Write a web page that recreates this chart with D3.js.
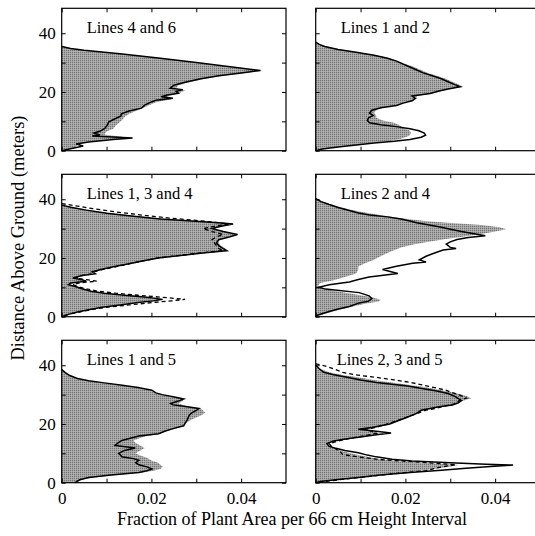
<!DOCTYPE html>
<html>
<head>
<meta charset="utf-8">
<script src="https://cdn.jsdelivr.net/npm/d3@7"></script>
<style>
  body { margin: 0; background: #fff; }
  svg { display: block; }
  text { font-family: "Liberation Serif", "Times New Roman", serif; fill: #000; }
</style>
</head>
<body>
<script>
// each profile is a list of [height (m), fraction of plant area]
const titles = ['Lines 4 and 6', 'Lines 1 and 2', 'Lines 1, 3 and 4',
                'Lines 2 and 4', 'Lines 1 and 5', 'Lines 2, 3 and 5'];

const xTicks = [0, 0.01, 0.02, 0.03, 0.04];
const xTickLabels = ['0', '', '0.02', '', '0.04'];
const yTicks = [0, 10, 20, 30, 40];
const yTickLabels = ['0', '', '20', '', '40'];

const p1Fill = [[35.5,0],[34.8,0.002],[34.2,0.005],[33,0.013],[31.5,0.022],[30,0.030],[28.5,0.038],[27.3,0.0448],[26.5,0.041],[25.5,0.036],[24.5,0.032],[23.3,0.0285],[22.3,0.026],[21.3,0.0255],[20.5,0.0275],[19.5,0.026],[18.5,0.0235],[17.5,0.0245],[16.5,0.021],[15.5,0.0195],[14.5,0.018],[13.5,0.0165],[12.5,0.015],[11.5,0.014],[10.5,0.0135],[9.5,0.0128],[8.5,0.012],[7.5,0.0115],[6.5,0.010],[5.5,0.0095],[4.3,0.0155],[3.7,0.0105],[3,0.006],[2,0.0035],[1,0.003],[0,0]];
const p1Solid = [[35.5,0],[34.8,0.002],[34.2,0.005],[33.0,0.013],[31.5,0.022],[30,0.030],[28.5,0.038],[27.3,0.0443],[26.5,0.040],[25.5,0.035],[24.5,0.031],[23.3,0.0275],[22.3,0.025],[21.3,0.0242],[20.8,0.027],[20.2,0.0255],[19.6,0.026],[19.0,0.0235],[18.4,0.0222],[17.9,0.0248],[17.2,0.021],[16.3,0.0195],[15.5,0.0185],[14.5,0.0178],[13.5,0.015],[12.6,0.0133],[11.8,0.0132],[10.8,0.0118],[9.8,0.0105],[8.8,0.0102],[7.6,0.0096],[6.6,0.0085],[6.0,0.0072],[5.4,0.0085],[5.0,0.0068],[4.3,0.0158],[3.8,0.0115],[3.0,0.006],[2.3,0.0032],[1.6,0.0048],[1.0,0.003],[0.4,0.0012],[0,0]];

const p2Fill = [[37,0],[36.2,0.001],[35.5,0.0025],[34.5,0.0055],[33.5,0.0095],[32.5,0.0135],[31.5,0.0165],[30.5,0.0185],[29.5,0.020],[28.5,0.022],[27.5,0.0235],[26.5,0.025],[25.5,0.027],[24.5,0.029],[23.5,0.0305],[22.5,0.032],[21.8,0.0328],[21.0,0.030],[20.3,0.028],[19.5,0.026],[18.6,0.0225],[17.8,0.0225],[17.0,0.0215],[16.2,0.0195],[15.4,0.0175],[14.6,0.015],[13.8,0.0135],[12.8,0.013],[12.0,0.0135],[11.2,0.0135],[10.3,0.015],[9.5,0.0175],[8.8,0.0185],[8.2,0.019],[7.5,0.020],[6.8,0.021],[6.0,0.0212],[5.3,0.021],[4.6,0.020],[3.8,0.0185],[3.2,0.016],[2.6,0.012],[2.0,0.009],[1.3,0.005],[0.6,0.0015],[0,0]];
const p2Solid = [[37,0],[36.2,0.0008],[35.5,0.002],[34.5,0.005],[33.5,0.009],[32.5,0.013],[31.5,0.016],[30.5,0.018],[29.5,0.0195],[28.5,0.021],[27.5,0.0225],[26.5,0.024],[25.5,0.026],[24.5,0.028],[23.5,0.0295],[22.5,0.031],[21.8,0.0322],[21.0,0.0295],[20.3,0.0275],[19.5,0.0255],[18.6,0.0215],[17.8,0.0222],[17.0,0.0215],[16.2,0.0195],[15.4,0.018],[14.6,0.0145],[13.8,0.0125],[12.8,0.012],[12.0,0.0128],[11.2,0.0118],[10.3,0.0115],[9.5,0.012],[8.8,0.0145],[8.2,0.018],[7.5,0.021],[6.8,0.023],[6.0,0.0242],[5.3,0.0245],[4.6,0.0235],[3.8,0.021],[3.2,0.0175],[2.6,0.013],[2.0,0.0095],[1.3,0.005],[0.6,0.0015],[0,0]];

const p3Fill = [[38,0],[37.3,0.0025],[36.3,0.006],[35.2,0.011],[34.2,0.017],[33.3,0.023],[32.6,0.030],[32.0,0.036],[31.6,0.0385],[30.8,0.036],[30.0,0.034],[29.0,0.0365],[28.0,0.039],[27.2,0.037],[26.2,0.035],[25.2,0.035],[24.2,0.0355],[23.2,0.0365],[22.5,0.037],[21.8,0.032],[21.0,0.028],[20.0,0.022],[19.0,0.0185],[18.0,0.0155],[17.0,0.012],[16.0,0.009],[15.3,0.0075],[14.6,0.007],[14.0,0.005],[13.2,0.003],[12.6,0.004],[12.1,0.005],[11.5,0.0025],[10.9,0.002],[10.3,0.0035],[9.5,0.005],[8.7,0.007],[8.0,0.010],[7.3,0.0145],[6.6,0.019],[5.9,0.021],[5.4,0.019],[4.8,0.016],[4.0,0.0125],[3.2,0.009],[2.4,0.006],[1.6,0.0035],[0.8,0.0015],[0,0]];
const p3Solid = [[38,0],[37.3,0.002],[36.3,0.0055],[35.2,0.010],[34.2,0.016],[33.3,0.022],[32.6,0.029],[32.0,0.035],[31.6,0.0382],[30.8,0.0355],[30.0,0.0335],[29.0,0.036],[28.0,0.0392],[27.2,0.0375],[26.2,0.035],[25.2,0.0345],[24.2,0.035],[23.2,0.036],[22.5,0.0368],[21.8,0.032],[21.0,0.0275],[20.0,0.0215],[19.0,0.018],[18.0,0.015],[17.0,0.0115],[16.0,0.0085],[15.3,0.0068],[14.6,0.0075],[14.0,0.0045],[13.2,0.0025],[12.6,0.0045],[12.1,0.0055],[11.5,0.002],[10.9,0.0015],[10.3,0.003],[9.5,0.0045],[8.7,0.0065],[8.0,0.0095],[7.3,0.014],[6.6,0.019],[5.9,0.0225],[5.4,0.0205],[4.8,0.017],[4.0,0.013],[3.2,0.009],[2.4,0.006],[1.6,0.0035],[0.8,0.0015],[0,0]];
const p3Dashed = [[38.5,0],[37.8,0.003],[36.8,0.007],[35.7,0.012],[34.6,0.018],[33.6,0.024],[32.8,0.030],[32.0,0.035],[31.5,0.0372],[30.8,0.034],[30.0,0.0315],[29.0,0.0335],[28.0,0.036],[27.2,0.0345],[26.2,0.0335],[25.2,0.034],[24.2,0.0345],[23.2,0.035],[22.5,0.036],[21.8,0.0315],[21.0,0.027],[20.0,0.0215],[19.0,0.018],[18.0,0.015],[17.0,0.012],[16.0,0.009],[15.3,0.0072],[14.6,0.0068],[14.0,0.0045],[13.2,0.003],[12.6,0.0055],[12.1,0.0078],[11.5,0.004],[10.9,0.0025],[10.3,0.0035],[9.5,0.0055],[8.7,0.008],[8.0,0.012],[7.3,0.017],[6.6,0.0225],[5.9,0.0275],[5.4,0.0245],[4.8,0.020],[4.0,0.015],[3.2,0.010],[2.4,0.0065],[1.6,0.004],[0.8,0.0015],[0,0]];

const p4Fill = [[40.2,0],[39.5,0.001],[38.5,0.003],[37.5,0.005],[36.5,0.0075],[35.5,0.011],[34.5,0.015],[33.5,0.019],[32.5,0.025],[31.8,0.031],[31.2,0.037],[30.5,0.041],[29.8,0.0425],[29.0,0.040],[28.2,0.037],[27.4,0.0335],[26.5,0.029],[25.6,0.0255],[24.7,0.022],[23.6,0.019],[22.4,0.017],[21.0,0.015],[19.4,0.013],[18.2,0.011],[17.1,0.0095],[16.0,0.0095],[14.7,0.009],[13.5,0.0065],[12.4,0.004],[11.5,0.001],[10.6,0.0005],[9.6,0.0015],[8.6,0.005],[7.6,0.009],[6.6,0.0125],[5.8,0.0145],[5.2,0.014],[4.4,0.011],[3.6,0.0085],[2.8,0.0065],[2.0,0.0045],[1.2,0.0025],[0.5,0.001],[0,0]];
const p4Solid = [[40.2,0],[39.2,0.0012],[38.2,0.003],[37.2,0.005],[36.2,0.0075],[35.3,0.0095],[34.6,0.012],[34.0,0.016],[33.3,0.019],[32.6,0.021],[32.0,0.0225],[31.3,0.025],[30.5,0.028],[29.8,0.030],[29.0,0.0325],[28.3,0.035],[27.6,0.0378],[27.0,0.034],[26.3,0.0315],[25.5,0.030],[24.7,0.0291],[23.6,0.030],[23.2,0.0313],[22.7,0.0284],[21.7,0.0265],[20.6,0.0246],[19.4,0.0231],[18.6,0.0246],[18.2,0.0216],[17.2,0.018],[16.1,0.0149],[14.7,0.0183],[13.5,0.0119],[12.7,0.0095],[11.8,0.0075],[10.9,0.003],[10.0,0.0007],[9.4,0.0022],[8.2,0.0097],[7.1,0.0119],[6.2,0.0125],[5.3,0.0118],[4.7,0.0097],[3.5,0.0075],[2.6,0.005],[1.8,0.003],[0.6,0.0005],[0,0]];

const p5Fill = [[38.5,0],[37.5,0.0008],[36.5,0.0018],[35.5,0.0032],[34.7,0.0055],[34.0,0.009],[33.2,0.013],[32.4,0.0165],[31.5,0.0195],[30.6,0.021],[30.0,0.0225],[29.1,0.025],[28.5,0.027],[27.8,0.027],[27.0,0.026],[26.0,0.028],[25.3,0.031],[24.6,0.0315],[23.8,0.032],[22.9,0.031],[21.5,0.029],[20.2,0.0275],[19.4,0.027],[18.5,0.0255],[17.6,0.0235],[16.7,0.022],[15.9,0.019],[15.2,0.0175],[14.4,0.016],[13.5,0.0165],[12.7,0.0175],[11.8,0.0185],[11.0,0.0175],[10.0,0.0165],[9.3,0.0175],[8.5,0.019],[7.6,0.020],[6.8,0.0215],[6.1,0.022],[5.4,0.0225],[4.7,0.022],[4.1,0.0205],[3.5,0.018],[2.6,0.012],[1.8,0.007],[1.0,0.0045],[0,0.003]];
const p5Solid = [[38.5,0],[37.5,0.0008],[36.5,0.0018],[35.5,0.0035],[34.7,0.006],[34.0,0.0095],[33.2,0.0135],[32.4,0.017],[31.5,0.0201],[30.6,0.021],[30.0,0.0224],[29.1,0.0254],[28.5,0.0272],[27.8,0.026],[27.0,0.0243],[26.5,0.0248],[26.0,0.0272],[25.3,0.0306],[24.6,0.030],[23.8,0.029],[22.9,0.0284],[21.5,0.028],[20.2,0.0275],[19.4,0.0272],[18.5,0.025],[17.6,0.0231],[16.7,0.0216],[15.9,0.0172],[15.2,0.0155],[14.4,0.0134],[13.5,0.0125],[12.7,0.0119],[11.8,0.0164],[11.0,0.014],[10.0,0.0127],[9.3,0.0132],[8.8,0.0134],[8.2,0.016],[7.6,0.0172],[6.8,0.0165],[6.1,0.0172],[5.4,0.019],[4.7,0.0201],[4.1,0.019],[3.5,0.0172],[2.6,0.011],[1.8,0.006],[1.0,0.004],[0,0.003]];

const p6Fill = [[39.5,0],[38.8,0.001],[37.6,0.003],[36.7,0.006],[35.9,0.0095],[35.0,0.013],[34.1,0.017],[33.3,0.021],[32.4,0.025],[31.5,0.028],[30.6,0.031],[29.6,0.0335],[28.8,0.0347],[28.0,0.033],[27.0,0.0315],[26.2,0.029],[25.4,0.0265],[24.7,0.024],[23.5,0.0225],[21.8,0.020],[20.3,0.017],[18.8,0.0135],[18.2,0.0115],[17.5,0.013],[16.8,0.014],[16.0,0.0115],[15.2,0.008],[14.2,0.0045],[13.3,0.0025],[12.4,0.003],[11.5,0.0045],[10.5,0.0065],[9.6,0.009],[8.8,0.0115],[8.0,0.0145],[7.4,0.018],[6.8,0.024],[6.3,0.029],[6.0,0.032],[5.5,0.030],[4.9,0.0275],[4.1,0.0235],[3.3,0.0185],[2.4,0.013],[1.5,0.008],[0.6,0.003],[0,0]];
const p6Solid = [[40,0],[38.8,0.0008],[37.6,0.0018],[36.8,0.004],[35.9,0.007],[35.0,0.010],[34.1,0.0135],[33.5,0.017],[32.9,0.0205],[32.0,0.024],[31.2,0.027],[30.4,0.0295],[29.4,0.031],[28.5,0.032],[28.0,0.0325],[27.2,0.0318],[26.5,0.0305],[25.9,0.0275],[25.3,0.0255],[24.7,0.0235],[23.6,0.0225],[22.4,0.0205],[21.2,0.0185],[20.0,0.0165],[19.4,0.0145],[18.8,0.0125],[18.2,0.0095],[17.6,0.013],[16.9,0.0168],[16.3,0.0135],[15.6,0.010],[15.0,0.007],[14.2,0.004],[13.3,0.0025],[12.4,0.003],[11.7,0.0045],[11.0,0.0065],[10.2,0.0095],[9.4,0.0115],[8.8,0.0135],[8.0,0.017],[7.4,0.0215],[6.8,0.030],[6.3,0.038],[6.0,0.044],[5.5,0.039],[4.9,0.0335],[4.2,0.028],[3.5,0.021],[2.7,0.015],[1.8,0.0095],[1.0,0.0045],[0.4,0.001],[0,0]];
const p6Dashed = [[40.5,0],[39.8,0.002],[38.8,0.004],[37.6,0.006],[36.7,0.009],[35.9,0.0134],[35.0,0.0175],[34.2,0.021],[33.5,0.0231],[32.4,0.0265],[31.5,0.029],[30.6,0.0306],[29.6,0.0325],[28.8,0.0336],[28.0,0.032],[27.0,0.0313],[26.2,0.029],[25.4,0.027],[24.7,0.0246],[23.5,0.0225],[21.8,0.0194],[20.3,0.0165],[18.8,0.0134],[18.2,0.011],[17.5,0.0125],[16.8,0.0135],[16.0,0.011],[15.2,0.008],[14.2,0.005],[13.3,0.003],[12.4,0.0035],[11.5,0.0045],[10.5,0.0055],[9.6,0.006],[8.8,0.0095],[8.0,0.0135],[7.6,0.0172],[7.0,0.023],[6.4,0.0285],[6.1,0.0313],[5.6,0.029],[5.0,0.027],[4.1,0.0246],[3.3,0.019],[2.4,0.0134],[1.5,0.008],[0.6,0.003],[0,0]];

const panels = [
  { title: titles[0], fill: p1Fill, solid: p1Solid, dashed: null },
  { title: titles[1], fill: p2Fill, solid: p2Solid, dashed: null },
  { title: titles[2], fill: p3Fill, solid: p3Solid, dashed: p3Dashed },
  { title: titles[3], fill: p4Fill, solid: p4Solid, dashed: null },
  { title: titles[4], fill: p5Fill, solid: p5Solid, dashed: null },
  { title: titles[5], fill: p6Fill, solid: p6Solid, dashed: p6Dashed },
];

const svgWidth = 535;
const svgHeight = 536;
const panelW = 224.3;
const panelH = 142.4;
const colX = [61.7, 315.7];
const rowY = [8.3, 174.3, 340.3];

const svg = d3.select('body').append('svg')
  .attr('width', svgWidth)
  .attr('height', svgHeight);

// stipple pattern for the filled profile
const pat = svg.append('defs').append('pattern')
  .attr('id', 'stipple')
  .attr('patternUnits', 'userSpaceOnUse')
  .attr('width', 2).attr('height', 2);
pat.append('rect').attr('width', 2).attr('height', 2).attr('fill', '#c6c6c6');
pat.append('rect').attr('width', 1).attr('height', 1).attr('fill', '#1e1e1e');

const xScale = d3.scaleLinear().domain([0, 0.05]).range([0, panelW]);
const yScale = d3.scaleLinear().domain([0, 48.5]).range([panelH, 0]);

const area = d3.area()
  .x0(xScale(0))
  .x1(d => xScale(d[1]))
  .y(d => yScale(d[0]));
const line = d3.line()
  .x(d => xScale(d[1]))
  .y(d => yScale(d[0]));

panels.forEach((p, i) => {
  const col = i % 2, row = Math.floor(i / 2);
  const g = svg.append('g').attr('transform', `translate(${colX[col]},${rowY[row]})`);

  g.append('path').datum(p.fill)
    .attr('d', area)
    .attr('fill', 'url(#stipple)');

  if (p.dashed) {
    g.append('path').datum(p.dashed)
      .attr('d', line)
      .attr('fill', 'none')
      .attr('stroke', '#000')
      .attr('stroke-width', 1.3)
      .attr('stroke-dasharray', '4,3');
  }
  g.append('path').datum(p.solid)
    .attr('d', line)
    .attr('fill', 'none')
    .attr('stroke', '#000')
    .attr('stroke-width', 1.5);

  // inward ticks on all four sides
  const bottom = g.append('g')
    .attr('transform', `translate(0,${panelH})`)
    .call(d3.axisBottom(xScale).tickValues(xTicks).tickSize(-4).tickPadding(9)
      .tickFormat((d, k) => row === 2 ? xTickLabels[k] : ''));
  const top = g.append('g')
    .call(d3.axisTop(xScale).tickValues(xTicks).tickSize(-4).tickFormat(''));
  const left = g.append('g')
    .call(d3.axisLeft(yScale).tickValues(yTicks).tickSize(-4).tickPadding(6)
      .tickFormat((d, k) => col === 0 ? yTickLabels[k] : ''));
  const right = g.append('g')
    .attr('transform', `translate(${panelW},0)`)
    .call(d3.axisRight(yScale).tickValues(yTicks).tickSize(-4).tickFormat(''));

  [bottom, top, left, right].forEach(a => {
    a.select('.domain').remove();
    a.selectAll('.tick line').attr('stroke', '#000');
    a.selectAll('text').attr('font-size', 17)
      .attr('font-family', '"Liberation Serif", "Times New Roman", serif');
  });

  g.append('rect')
    .attr('width', panelW).attr('height', panelH)
    .attr('fill', 'none').attr('stroke', '#000').attr('stroke-width', 1.2);

  g.append('text')
    .attr('x', i === 5 ? 21 : 25)
    .attr('y', 25)
    .attr('font-size', 16.5)
    .text(p.title);
});

// axis titles
svg.append('text')
  .attr('x', 292).attr('y', 525)
  .attr('text-anchor', 'middle')
  .attr('font-size', 18)
  .text('Fraction of Plant Area per 66 cm Height Interval');

svg.append('text')
  .attr('transform', 'translate(24,238) rotate(-90)')
  .attr('text-anchor', 'middle')
  .attr('font-size', 18.5)
  .text('Distance Above Ground (meters)');
</script>
</body>
</html>
